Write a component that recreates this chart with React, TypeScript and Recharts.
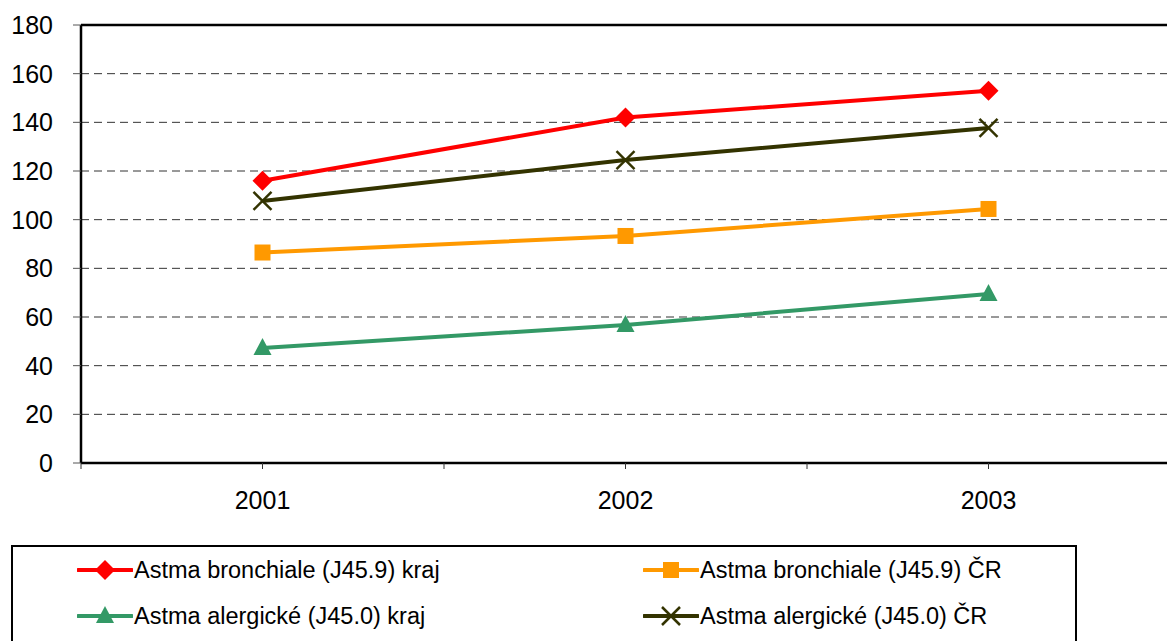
import React from "react";
import { LineChart, Line, XAxis, YAxis, CartesianGrid, ReferenceLine } from "recharts";

const years = ["2001", "2002", "2003"];
const bronchialeKraj = [116, 142, 153];
const bronchialeCR = [86.5, 93.3, 104.4];
const alergickeKraj = [47.3, 56.7, 69.5];
const alergickeCR = [107.7, 124.5, 137.7];
const yTicks = [0, 20, 40, 60, 80, 100, 120, 140, 160, 180];

type Marker = "diamond" | "square" | "triangle" | "cross";

const series: { key: string; name: string; color: string; marker: Marker; values: number[] }[] = [
  { key: "bk", name: "Astma bronchiale (J45.9) kraj", color: "#FF0000", marker: "diamond", values: bronchialeKraj },
  { key: "bc", name: "Astma bronchiale (J45.9) ČR", color: "#FF9900", marker: "square", values: bronchialeCR },
  { key: "ak", name: "Astma alergické (J45.0) kraj", color: "#339966", marker: "triangle", values: alergickeKraj },
  { key: "ac", name: "Astma alergické (J45.0) ČR", color: "#333300", marker: "cross", values: alergickeCR },
];

const data = years.map((year, i) => {
  const row: Record<string, number | string> = { x: i + 0.5, year };
  series.forEach((s) => (row[s.key] = s.values[i]));
  return row;
});

const FONT = "'Liberation Sans', Arial, sans-serif";

const MarkerShape = ({ kind, cx, cy, color }: { kind: Marker; cx: number; cy: number; color: string }) => {
  if (kind === "diamond") {
    return <polygon points={`${cx},${cy - 10} ${cx + 10},${cy} ${cx},${cy + 10} ${cx - 10},${cy}`} fill={color} />;
  }
  if (kind === "square") {
    return <rect x={cx - 8} y={cy - 8} width={16} height={16} fill={color} />;
  }
  if (kind === "triangle") {
    return <polygon points={`${cx},${cy - 10} ${cx + 9},${cy + 7} ${cx - 9},${cy + 7}`} fill={color} />;
  }
  return (
    <g stroke={color} strokeWidth={2.5}>
      <line x1={cx - 9} y1={cy - 9} x2={cx + 9} y2={cy + 9} />
      <line x1={cx - 9} y1={cy + 9} x2={cx + 9} y2={cy - 9} />
    </g>
  );
};

const xLabel = (v: number) => {
  const i = v - 0.5;
  return Number.isInteger(i) && years[i] ? years[i] : "";
};

const LegendItem = ({ s }: { s: (typeof series)[number] }) => (
  <div style={{ display: "flex", alignItems: "center", height: 46 }}>
    <svg width={56} height={24} style={{ display: "block" }}>
      <line x1={1} y1={12} x2={55} y2={12} stroke={s.color} strokeWidth={4} strokeLinecap="round" />
      <MarkerShape kind={s.marker} cx={28} cy={12} color={s.color} />
    </svg>
    <span style={{ marginLeft: 1 }}>{s.name}</span>
  </div>
);

export default function App() {
  return (
    <div style={{ position: "absolute", left: 0, top: 0, width: 1167, height: 641, overflow: "hidden", background: "#fff", fontFamily: FONT }}>
      <LineChart width={1170} height={520} data={data} margin={{ top: 25, right: 0, bottom: 0, left: 0 }}>
        <CartesianGrid vertical={false} stroke="#333" strokeDasharray="8 5" />
        <XAxis
          dataKey="x"
          type="number"
          domain={[0, 3]}
          ticks={[0, 0.5, 1, 1.5, 2, 2.5, 3]}
          tickFormatter={xLabel}
          height={57}
          tickSize={6}
          tickMargin={22}
          axisLine={{ stroke: "#000", strokeWidth: 2.5 }}
          tickLine={{ stroke: "#333" }}
          tick={{ fill: "#000", fontSize: 25, fontFamily: FONT }}
        />
        <YAxis
          domain={[0, 180]}
          ticks={yTicks}
          width={81}
          tickSize={8}
          tickMargin={20}
          axisLine={{ stroke: "#000", strokeWidth: 2.5 }}
          tickLine={{ stroke: "#555" }}
          tick={{ fill: "#000", fontSize: 25, fontFamily: FONT }}
        />
        <ReferenceLine y={180} stroke="#000" strokeWidth={2.5} />
        {series.map((s) => (
          <Line
            key={s.key}
            dataKey={s.key}
            name={s.name}
            stroke={s.color}
            strokeWidth={4}
            isAnimationActive={false}
            dot={(p: any) => <MarkerShape key={`${s.key}-${p.index}`} kind={s.marker} cx={p.cx} cy={p.cy} color={s.color} />}
          />
        ))}
      </LineChart>
      <div
        style={{
          position: "absolute",
          left: 11,
          top: 545,
          width: 1066,
          height: 120,
          border: "2px solid #000",
          fontSize: 23.5,
          color: "#000",
          display: "grid",
          gridTemplateColumns: "566px 1fr",
          gridAutoRows: "46px",
          alignContent: "start",
          paddingLeft: 64,
          boxSizing: "border-box",
        }}
      >
        <LegendItem s={series[0]} />
        <LegendItem s={series[1]} />
        <LegendItem s={series[2]} />
        <LegendItem s={series[3]} />
      </div>
    </div>
  );
}
